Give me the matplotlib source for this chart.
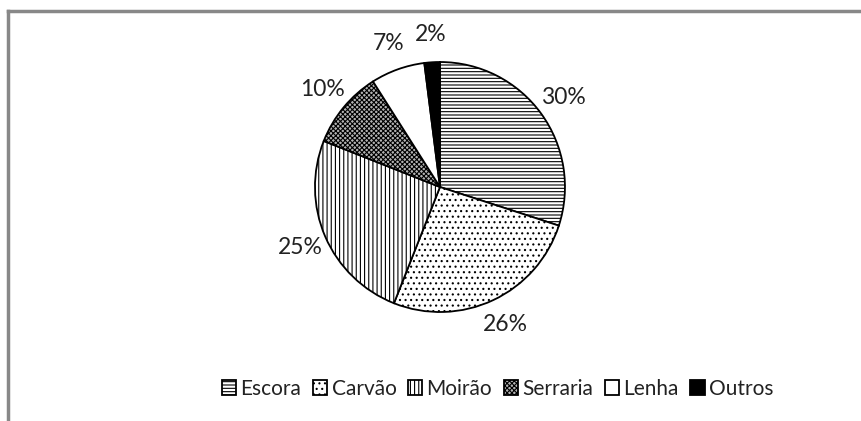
import matplotlib.pyplot as plt
from matplotlib.lines import Line2D

plt.rcParams['font.family'] = ['Lato', 'DejaVu Sans']
plt.rcParams['hatch.linewidth'] = 0.8

# data
categorias = ['Escora', 'Carvão', 'Moirão', 'Serraria', 'Lenha', 'Outros']
valores = [30, 26, 25, 10, 7, 2]
rotulos = ['30%', '26%', '25%', '10%', '7%', '2%']

cores = ['white', 'white', 'white', '#b4b4b4', 'white', 'black']
hachuras = ['-----', '...', '||||', 'xxxxxxx', None, None]

fig = plt.figure(figsize=(8.61, 4.21), dpi=100)
ax = fig.add_axes([0.3658, 0.2589, 0.2904, 0.5938])

wedges, textos = ax.pie(valores, labels=rotulos, colors=cores, startangle=90,
                        counterclock=False, labeldistance=1.22,
                        wedgeprops=dict(edgecolor='black', linewidth=1.3),
                        textprops=dict(fontsize=16.5, color='#222222'))
for w, h in zip(wedges, hachuras):
    if h:
        w.set_hatch(h)
for t in textos:
    t.set_ha('center')
    t.set_va('center')
ax.set_xlim(-1, 1)
ax.set_ylim(-1, 1)
ax.set_aspect('equal')

leg = fig.legend(wedges, categorias, loc='center', bbox_to_anchor=(0.578, 0.076),
                 ncol=6, frameon=False, fontsize=15, handlelength=0.7,
                 handleheight=0.7, handletextpad=0.2, columnspacing=0.55)
for t in leg.get_texts():
    t.set_color('#222222')

# chart frame (only left/top visible in the crop)
fig.add_artist(Line2D([0.0093, 0.0093], [0.0, 0.973], color='#888888', lw=2.5,
                      transform=fig.transFigure))
fig.add_artist(Line2D([0.0093, 1.0], [0.973, 0.973], color='#888888', lw=2.5,
                      transform=fig.transFigure))

fig.savefig('out.png', dpi=100)
